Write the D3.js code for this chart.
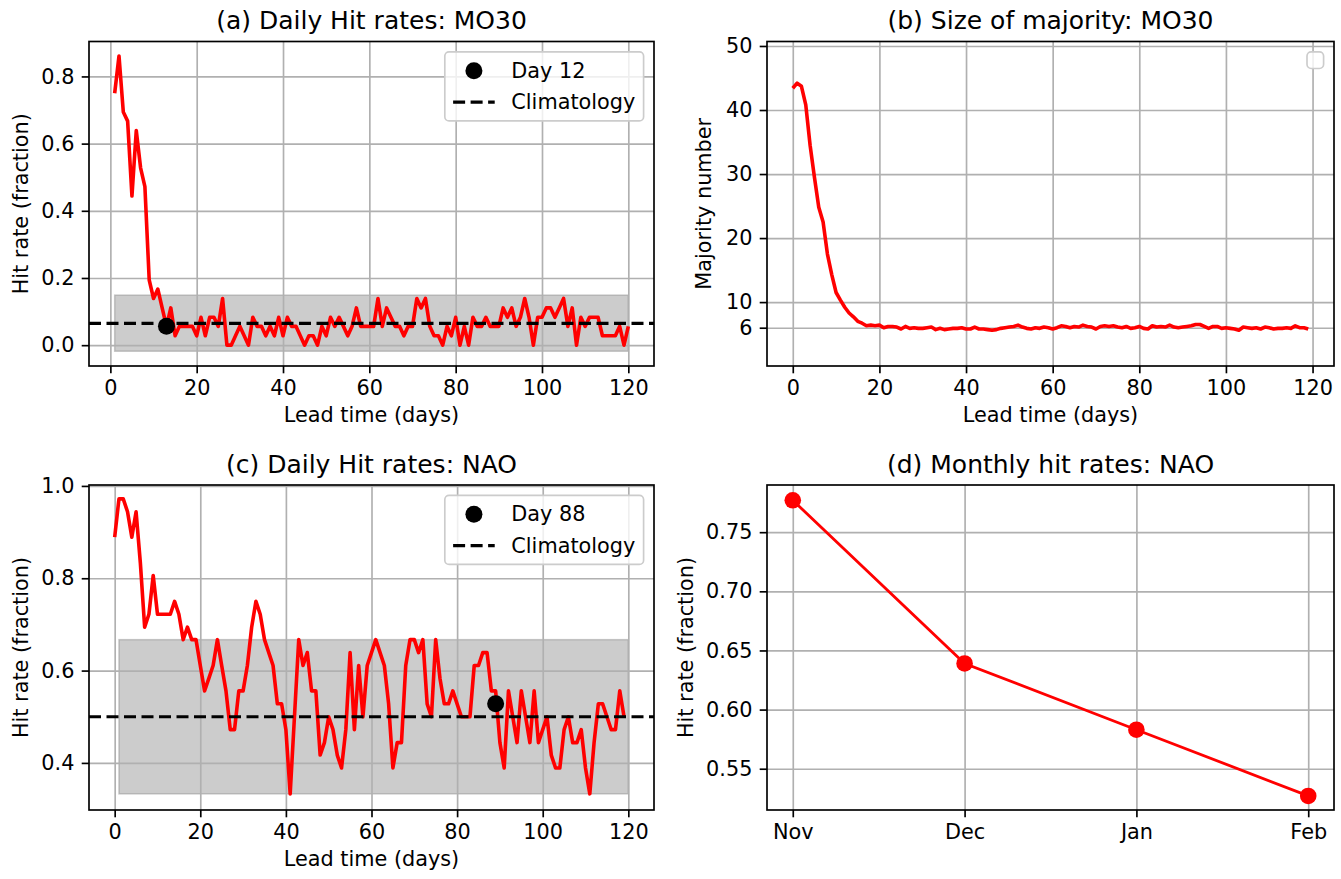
<!DOCTYPE html>
<html lang="en">
  <head>
    <meta charset="UTF-8" />
    <title>hit rates</title>
    <script src="https://cdn.jsdelivr.net/npm/d3@7"></script>
    <style>
      body { margin: 0; background: #fff; }
    </style>
  </head>
  <body>
    <div id="wrapper"></div>
    <script>
      // (a) daily hit rates MO30, lead days 1..120
      const leadA = d3.range(1, 121);
      const hitA = [
        0.750, 0.861, 0.694, 0.667, 0.444, 0.639, 0.528, 0.472, 0.194, 0.139,
        0.167, 0.111, 0.056, 0.111, 0.028, 0.056, 0.056, 0.056, 0.056, 0.028,
        0.083, 0.028, 0.083, 0.083, 0.056, 0.139, 0.000, 0.000, 0.028, 0.056,
        0.028, 0.000, 0.083, 0.056, 0.056, 0.028, 0.056, 0.028, 0.083, 0.028,
        0.083, 0.056, 0.056, 0.028, 0.000, 0.028, 0.028, 0.000, 0.056, 0.028,
        0.083, 0.056, 0.083, 0.056, 0.028, 0.056, 0.111, 0.056, 0.056, 0.056,
        0.056, 0.139, 0.056, 0.111, 0.083, 0.056, 0.056, 0.028, 0.056, 0.056,
        0.139, 0.111, 0.139, 0.056, 0.028, 0.028, 0.000, 0.056, 0.028, 0.083,
        0.000, 0.056, 0.000, 0.083, 0.056, 0.056, 0.083, 0.056, 0.056, 0.056,
        0.111, 0.083, 0.111, 0.056, 0.083, 0.139, 0.083, 0.000, 0.083, 0.083,
        0.111, 0.111, 0.083, 0.111, 0.139, 0.056, 0.111, 0.000, 0.083, 0.056,
        0.083, 0.083, 0.083, 0.028, 0.028, 0.028, 0.028, 0.056, 0.000, 0.056
      ];
      const bandA = [-0.018, 0.149];
      const climA = 0.065;
      const markA = { day: 13, value: 0.056, label: "Day 12" };

      // (b) size of majority MO30, lead days 0..119
      const leadB = d3.range(0, 120);
      const majorityB = [
        43.4, 44.2, 43.7, 40.8, 34.5, 29.5, 24.8, 22.5, 17.5, 14.3,
        11.5, 10.3, 9.2, 8.3, 7.7, 7.0, 6.7, 6.3, 6.4, 6.3,
        6.4, 6.0, 6.2, 6.2, 6.1, 5.8, 6.2, 5.9, 6.0, 5.9,
        5.9, 6.0, 6.1, 5.7, 5.9, 5.7, 5.8, 5.9, 5.9, 6.0,
        5.8, 5.8, 6.1, 5.8, 5.8, 5.7, 5.6, 5.7, 5.9, 6.0,
        6.1, 6.2, 6.4, 6.1, 5.9, 5.8, 6.0, 5.9, 6.1, 6.0,
        5.8, 6.0, 6.3, 6.2, 6.0, 6.2, 6.1, 6.4, 6.2, 6.1,
        5.8, 6.2, 6.3, 6.2, 6.3, 6.1, 6.0, 6.2, 5.9, 6.0,
        6.2, 5.9, 5.8, 6.3, 6.1, 6.2, 6.1, 6.4, 6.1, 6.0,
        6.1, 6.2, 6.3, 6.5, 6.5, 6.2, 5.9, 6.2, 6.2, 5.9,
        6.0, 5.9, 5.8, 5.6, 6.1, 6.0, 5.9, 6.0, 5.8, 6.1,
        6.0, 5.8, 5.9, 5.9, 6.0, 5.9, 6.3, 6.0, 6.0, 5.8
      ];

      // (c) daily hit rates NAO, lead days 0..119
      const leadC = d3.range(0, 120);
      const hitC = [
        0.889, 0.972, 0.972, 0.944, 0.889, 0.944, 0.833, 0.694, 0.722, 0.806,
        0.722, 0.722, 0.722, 0.722, 0.750, 0.722, 0.667, 0.694, 0.667, 0.667,
        0.611, 0.556, 0.583, 0.611, 0.667, 0.611, 0.556, 0.472, 0.472, 0.556,
        0.556, 0.611, 0.694, 0.750, 0.722, 0.667, 0.639, 0.611, 0.528, 0.528,
        0.472, 0.333, 0.500, 0.667, 0.611, 0.639, 0.556, 0.556, 0.417, 0.444,
        0.500, 0.472, 0.417, 0.389, 0.472, 0.639, 0.472, 0.611, 0.500, 0.611,
        0.639, 0.667, 0.639, 0.611, 0.528, 0.389, 0.444, 0.444, 0.611, 0.667,
        0.667, 0.639, 0.667, 0.528, 0.500, 0.667, 0.583, 0.528, 0.528, 0.556,
        0.528, 0.500, 0.500, 0.500, 0.611, 0.611, 0.639, 0.639, 0.556, 0.556,
        0.444, 0.389, 0.556, 0.500, 0.444, 0.556, 0.500, 0.444, 0.556, 0.444,
        0.472, 0.500, 0.417, 0.389, 0.389, 0.472, 0.500, 0.444, 0.444, 0.472,
        0.389, 0.333, 0.444, 0.528, 0.528, 0.500, 0.472, 0.472, 0.556, 0.500
      ];
      const bandC = [0.333, 0.667];
      const climC = 0.5;
      const markC = { day: 89, value: 0.528, label: "Day 88" };

      // (d) monthly hit rates NAO
      const months = ["Nov", "Dec", "Jan", "Feb"];
      const monthlyHit = [0.777, 0.639, 0.583, 0.527];

      const leadTicks = [0, 20, 40, 60, 80, 100, 120];
      const yTicksA = [0.0, 0.2, 0.4, 0.6, 0.8];
      const yTicksB = [6, 10, 20, 30, 40, 50];
      const yTicksC = [0.4, 0.6, 0.8, 1.0];
      const yTicksD = [0.55, 0.6, 0.65, 0.7, 0.75];

      const dimensions = { width: 1341, height: 879 };
      const cols = [{ left: 89, right: 654 }, { left: 767, right: 1334 }];
      const rows = [{ top: 41.5, bottom: 366 }, { top: 485, bottom: 810 }];
      const fontFamily = '"DejaVu Sans", sans-serif';
      const fs = 20.8;
      const lw = 1.67;

      const svg = d3
        .select("#wrapper")
        .append("svg")
        .attr("width", dimensions.width)
        .attr("height", dimensions.height)
        .style("display", "block")
        .style("font-family", fontFamily);

      function setupPanel(p) {
        const w = p.col.right - p.col.left;
        const h = p.row.bottom - p.row.top;
        const g = svg.append("g").attr("transform", `translate(${p.col.left},${p.row.top})`);
        const x = d3.scaleLinear().domain(p.xDomain).range([0, w]);
        const y = d3.scaleLinear().domain(p.yDomain).range([h, 0]);

        const under = g.append("g");
        const grid = g.append("g");
        const marks = g.append("g");
        const frame = g.append("g");

        const gx = grid
          .append("g")
          .attr("transform", `translate(0,${h})`)
          .call(d3.axisBottom(x).tickValues(p.xTicks).tickSize(-h).tickFormat(""));
        const gy = grid
          .append("g")
          .call(d3.axisLeft(y).tickValues(p.yTicks).tickSize(-w).tickFormat(""));
        grid.selectAll(".domain").remove();
        grid.selectAll("line").attr("stroke", "#b0b0b0").attr("stroke-width", lw);

        const xAxis = frame
          .append("g")
          .attr("transform", `translate(0,${h})`)
          .call(d3.axisBottom(x).tickValues(p.xTicks).tickSize(7.3).tickPadding(7.3).tickFormat(p.xFormat));
        const yAxis = frame
          .append("g")
          .call(d3.axisLeft(y).tickValues(p.yTicks).tickSize(7.3).tickPadding(7.3).tickFormat(p.yFormat));
        [xAxis, yAxis].forEach((a) => {
          a.attr("font-size", fs).attr("font-family", fontFamily);
          a.select(".domain").remove();
          a.selectAll("line").attr("stroke", "#000").attr("stroke-width", lw);
          a.selectAll("text").attr("fill", "#000");
        });

        frame
          .append("rect")
          .attr("width", w)
          .attr("height", h)
          .attr("fill", "none")
          .attr("stroke", "#000")
          .attr("stroke-width", lw);

        g.append("text")
          .attr("x", w / 2)
          .attr("y", -12.5)
          .attr("text-anchor", "middle")
          .attr("font-size", 25)
          .text(p.title);
        g.append("text")
          .attr("x", w / 2)
          .attr("y", h + 55.5)
          .attr("text-anchor", "middle")
          .attr("font-size", fs)
          .text(p.xLabel);
        g.append("text")
          .attr("transform", `translate(${p.yLabelX - p.col.left},${h / 2}) rotate(-90)`)
          .attr("text-anchor", "middle")
          .attr("font-size", fs)
          .text(p.yLabel);

        return { g, under, marks, frame, x, y, w, h };
      }

      function drawLegend(panel, entries) {
        const pad = 8.3, handleLen = 41.6, handlePad = 16.6, rowH = 21, rowGap = 10.4;
        const lg = panel.frame.append("g");
        const box = lg.append("rect");
        const texts = entries.map((e) =>
          lg.append("text").attr("font-size", fs).attr("dy", "0.35em").text(e.label)
        );
        const textW = d3.max(texts, (t) => t.node().getComputedTextLength()) || 0;
        const bw = entries.length ? pad * 2 + handleLen + handlePad + textW : pad * 2;
        const bh = entries.length ? pad * 2 + entries.length * rowH + (entries.length - 1) * rowGap : pad * 2;
        const left = panel.w - 10.4 - bw;
        const top = 10.4;
        box
          .attr("x", left)
          .attr("y", top)
          .attr("width", bw)
          .attr("height", bh)
          .attr("rx", 4.2)
          .attr("fill", "#fff")
          .attr("fill-opacity", 0.8)
          .attr("stroke", "#cccccc")
          .attr("stroke-width", lw);
        entries.forEach((e, i) => {
          const cy = top + pad + rowH / 2 + i * (rowH + rowGap);
          if (e.type === "dot") {
            lg.append("circle").attr("cx", left + pad + handleLen / 2).attr("cy", cy).attr("r", 8.5).attr("fill", "#000");
          } else {
            lg.append("line")
              .attr("x1", left + pad)
              .attr("x2", left + pad + handleLen)
              .attr("y1", cy)
              .attr("y2", cy)
              .attr("stroke", "#000")
              .attr("stroke-width", 3.2)
              .attr("stroke-dasharray", "12,5.5");
          }
          texts[i].attr("x", left + pad + handleLen + handlePad).attr("y", cy);
        });
      }

      function drawDaily(panel, lead, hit, band, clim, mark) {
        const { x, y } = panel;
        panel.under
          .append("rect")
          .attr("x", x(1))
          .attr("width", x(120) - x(1))
          .attr("y", y(band[1]))
          .attr("height", y(band[0]) - y(band[1]))
          .attr("fill", "gray")
          .attr("fill-opacity", 0.4)
          .attr("stroke", "gray")
          .attr("stroke-opacity", 0.4)
          .attr("stroke-width", 1.5);
        const lineGenerator = d3
          .line()
          .x((d, i) => x(lead[i]))
          .y((d) => y(d));
        panel.marks
          .append("path")
          .attr("d", lineGenerator(hit))
          .attr("fill", "none")
          .attr("stroke", "red")
          .attr("stroke-width", 3.6)
          .attr("stroke-linejoin", "round");
        panel.marks
          .append("line")
          .attr("x1", 0)
          .attr("x2", panel.w)
          .attr("y1", y(clim))
          .attr("y2", y(clim))
          .attr("stroke", "#000")
          .attr("stroke-width", 3.2)
          .attr("stroke-dasharray", "12,5.5");
        panel.marks
          .append("circle")
          .attr("cx", x(mark.day))
          .attr("cy", y(mark.value))
          .attr("r", 8.5)
          .attr("fill", "#000");
        drawLegend(panel, [
          { type: "dot", label: mark.label },
          { type: "dash", label: "Climatology" },
        ]);
      }

      const fmt1 = d3.format(".1f");

      // (a)
      const pa = setupPanel({
        col: cols[0], row: rows[0],
        xDomain: [-4.95, 125.95], yDomain: [-0.062, 0.904],
        xTicks: leadTicks, yTicks: yTicksA, xFormat: d3.format("d"), yFormat: fmt1,
        title: "(a) Daily Hit rates: MO30", xLabel: "Lead time (days)",
        yLabel: "Hit rate (fraction)", yLabelX: 28,
      });
      drawDaily(pa, leadA, hitA, bandA, climA, markA);

      // (b)
      const pb = setupPanel({
        col: cols[1], row: rows[0],
        xDomain: [-5.95, 124.95], yDomain: [0.02, 50.7],
        xTicks: leadTicks, yTicks: yTicksB, xFormat: d3.format("d"), yFormat: d3.format("d"),
        title: "(b) Size of majority: MO30", xLabel: "Lead time (days)",
        yLabel: "Majority number", yLabelX: 711,
      });
      pb.marks
        .append("path")
        .attr(
          "d",
          d3.line().x((d, i) => pb.x(leadB[i])).y((d) => pb.y(d))(majorityB)
        )
        .attr("fill", "none")
        .attr("stroke", "red")
        .attr("stroke-width", 3.6)
        .attr("stroke-linejoin", "round");
      drawLegend(pb, []);

      // (c)
      const pc = setupPanel({
        col: cols[0], row: rows[1],
        xDomain: [-6, 126], yDomain: [0.298, 1.002],
        xTicks: leadTicks, yTicks: yTicksC, xFormat: d3.format("d"), yFormat: fmt1,
        title: "(c) Daily Hit rates: NAO", xLabel: "Lead time (days)",
        yLabel: "Hit rate (fraction)", yLabelX: 28,
      });
      drawDaily(pc, leadC, hitC, bandC, climC, markC);

      // (d)
      const pd = setupPanel({
        col: cols[1], row: rows[1],
        xDomain: [-0.15, 3.15], yDomain: [0.5151, 0.7899],
        xTicks: d3.range(months.length), yTicks: yTicksD,
        xFormat: (i) => months[i], yFormat: d3.format(".2f"),
        title: "(d) Monthly hit rates: NAO", xLabel: "",
        yLabel: "Hit rate (fraction)", yLabelX: 693,
      });
      pd.marks
        .append("path")
        .attr("d", d3.line().x((d, i) => pd.x(i)).y((d) => pd.y(d))(monthlyHit))
        .attr("fill", "none")
        .attr("stroke", "red")
        .attr("stroke-width", 2.8);
      pd.marks
        .selectAll("circle")
        .data(monthlyHit)
        .join("circle")
        .attr("cx", (d, i) => pd.x(i))
        .attr("cy", (d) => pd.y(d))
        .attr("r", 8.3)
        .attr("fill", "red");
    </script>
  </body>
</html>
